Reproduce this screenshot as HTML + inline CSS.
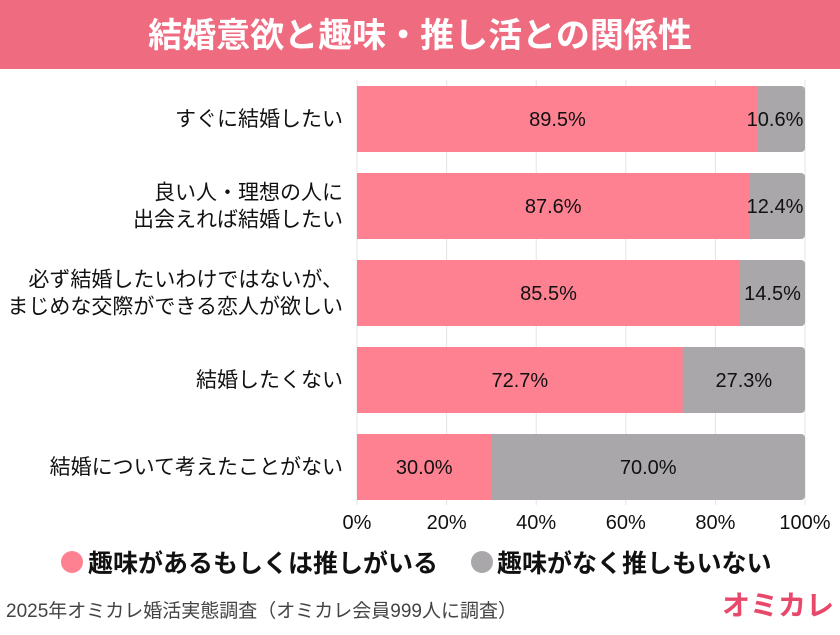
<!DOCTYPE html>
<html><head><meta charset="utf-8"><style>
body{margin:0;width:840px;height:630px;background:#fff;overflow:hidden;font-family:"Liberation Sans","Noto Sans CJK JP",sans-serif}
svg text{font-family:"Liberation Sans","Noto Sans CJK JP",sans-serif}
</style></head><body>
<svg id="chart" width="840" height="630">
<rect x="0" y="0" width="840" height="69" fill="#ef6b80"/>
<text x="420" y="47" text-anchor="middle" font-size="34" font-weight="bold" fill="#fff">結婚意欲と趣味・推し活との関係性</text>
<g id="grid"></g><g id="bars"></g><g id="ticks"></g>
<circle cx="72" cy="562" r="11" fill="#fd8190"/>
<text x="88" y="572" font-size="25" font-weight="bold" fill="#111">趣味があるもしくは推しがいる</text>
<circle cx="482" cy="562" r="11" fill="#a9a7aa"/>
<text x="497" y="572" font-size="25" font-weight="bold" fill="#111">趣味がなく推しもいない</text>
<text x="6" y="617" font-size="19" fill="#444">2025年オミカレ婚活実態調査（オミカレ会員999人に調査）</text>
<text x="834" y="615" text-anchor="end" font-size="28" font-weight="bold" fill="#e8486a">オミカレ</text>
</svg>
<script>
const categories=[["すぐに結婚したい"],["良い人・理想の人に","出会えれば結婚したい"],["必ず結婚したいわけではないが、","まじめな交際ができる恋人が欲しい"],["結婚したくない"],["結婚について考えたことがない"]];
const hobbyValues=[89.5,87.6,85.5,72.7,30.0];
const noHobbyValues=[10.6,12.4,14.5,27.3,70.0];
const tickValues=[0,20,40,60,80,100];
const NS="http://www.w3.org/2000/svg";
const x0=357,x1=805,top0=86,step=87,bh=66;
const xs=v=>x0+(x1-x0)*v/100;
function mk(t,a,p){const e=document.createElementNS(NS,t);for(const k in a)e.setAttribute(k,a[k]);p.appendChild(e);return e;}
const grid=document.getElementById('grid'),bars=document.getElementById('bars'),ticks=document.getElementById('ticks');
tickValues.forEach(v=>{
 const l=mk('line',{x1:xs(v),x2:xs(v),y1:80,y2:505,stroke:'#e4e4e4','stroke-width':1},grid);
 
 
 const t=mk('text',{x:xs(v),y:529,'text-anchor':'middle','font-size':20,fill:'#111'},ticks);
 t.textContent=v+'%';
 
 
});
categories.forEach((c,i)=>{
 const y=top0+i*step;
 const a=hobbyValues[i],b=noHobbyValues[i];
 const end=Math.min(100,a+b);
 const g=mk('rect',{x:xs(0),y:y,width:xs(end)-xs(0),height:bh,rx:4,fill:'#a9a7aa'},bars);
 
 
 const p=mk('rect',{x:xs(0),y:y,width:xs(a)-xs(0),height:bh,fill:'#fd8190'},bars);
 
 
 const t1=mk('text',{x:(xs(0)+xs(a))/2,y:y+bh/2+7,'text-anchor':'middle','font-size':20,fill:'#111'},bars);
 t1.textContent=a.toFixed(1)+'%';
 
 
 const t2=mk('text',{x:Math.min((xs(a)+xs(end))/2,xs(100)-30),y:y+bh/2+7,'text-anchor':'middle','font-size':20,fill:'#111'},bars);
 t2.textContent=b.toFixed(1)+'%';
 
 
 c.forEach((line,j)=>{
  const ly=y+bh/2+7+(j-(c.length-1)/2)*27;
  const t=mk('text',{x:343,y:ly,'text-anchor':'end','font-size':21,fill:'#111'},bars);
  t.textContent=line;
  
  
 });
});
</script>
</body></html>
